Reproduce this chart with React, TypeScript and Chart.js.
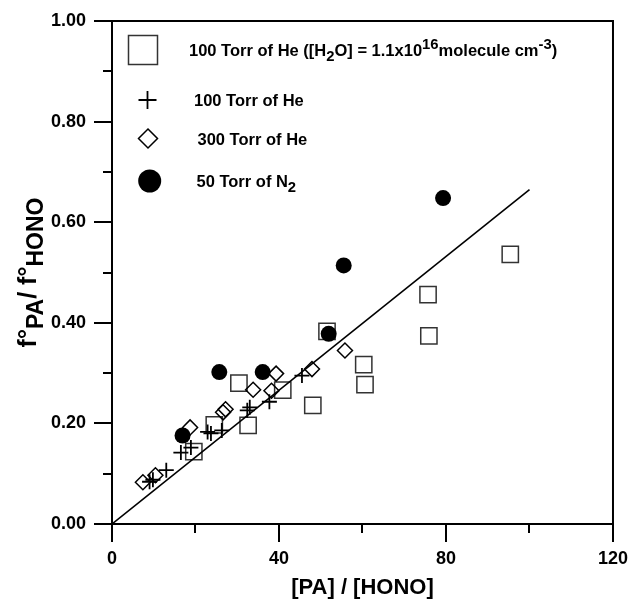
import React, { useEffect, useRef } from 'react';
import { Chart, registerables } from 'chart.js';

Chart.register(...registerables);

const FONT = "'Liberation Sans', Arial, sans-serif";

// ---- data ----
const squareX = [19.6, 24.5, 32.6, 30.4, 40.9, 48.1, 51.5, 60.3, 60.6, 75.7, 75.9, 95.4];
const squareY = [0.144, 0.197, 0.196, 0.280, 0.266, 0.236, 0.383, 0.317, 0.277, 0.456, 0.374, 0.536];

const plusX = [9.0, 9.8, 13.0, 16.5, 18.9, 22.9, 23.7, 26.3, 32.4, 33.0, 37.7, 45.5];
const plusY = [0.084, 0.088, 0.107, 0.142, 0.152, 0.183, 0.180, 0.186, 0.226, 0.232, 0.243, 0.295];

const diamondX = [7.4, 10.4, 18.7, 26.6, 27.2, 33.8, 38.2, 39.3, 47.9, 55.8];
const diamondY = [0.083, 0.097, 0.192, 0.222, 0.228, 0.267, 0.265, 0.299, 0.308, 0.345];

const circleX = [16.9, 25.7, 36.1, 51.9, 55.5, 79.3];
const circleY = [0.176, 0.302, 0.302, 0.378, 0.514, 0.648];

const fitX = [0, 100];
const fitY = [0, 0.665];

const xMajor = [0, 40, 80, 120];
const xMinor = [20, 60, 100];
const yMajor = [0, 0.2, 0.4, 0.6, 0.8, 1.0];
const yMinor = [0.1, 0.3, 0.5, 0.7, 0.9];

const xTitle = '[PA] / [HONO]';
type Seg = { t: string; k?: 'sub' | 'sup' };
const yTitle: Seg[] = [{ t: 'f°' }, { t: 'PA', k: 'sub' }, { t: '/ f°' }, { t: 'HONO', k: 'sub' }];

const legendStyles = ['square', 'plus', 'diamond', 'circle'];
const legendTexts: Seg[][] = [
  [
    { t: '100 Torr of He ([H' }, { t: '2', k: 'sub' }, { t: 'O] = 1.1x10' }, { t: '16', k: 'sup' },
    { t: 'molecule cm' }, { t: '-3', k: 'sup' }, { t: ')' },
  ],
  [{ t: '100 Torr of He' }],
  [{ t: '300 Torr of He' }],
  [{ t: '50 Torr of N' }, { t: '2', k: 'sub' }],
];

const pts = (xs: number[], ys: number[]) => xs.map((x, i) => ({ x, y: ys[i] }));

function richWidth(ctx: CanvasRenderingContext2D, segs: Seg[], size: number, scale: number) {
  let w = 0;
  for (const s of segs) {
    const sz = s.k ? size * scale : size;
    ctx.font = `bold ${sz}px ${FONT}`;
    w += ctx.measureText(s.t).width;
  }
  return w;
}

function drawRich(ctx: CanvasRenderingContext2D, segs: Seg[], x: number, y: number, size: number, scale: number, subShift: number, supShift: number) {
  let cx = x;
  ctx.textBaseline = 'alphabetic';
  ctx.textAlign = 'left';
  for (const s of segs) {
    const sz = s.k ? size * scale : size;
    const dy = s.k === 'sub' ? subShift : s.k === 'sup' ? -supShift : 0;
    ctx.font = `bold ${sz}px ${FONT}`;
    ctx.fillText(s.t, cx, y + dy);
    cx += ctx.measureText(s.t).width;
  }
}

function drawMarker(ctx: CanvasRenderingContext2D, style: string, x: number, y: number, s: number) {
  ctx.beginPath();
  if (style === 'square') {
    ctx.strokeStyle = '#333';
    ctx.lineWidth = 1.5;
    ctx.strokeRect(x - s, y - s, 2 * s, 2 * s);
  } else if (style === 'plus') {
    ctx.strokeStyle = '#000';
    ctx.lineWidth = 1.8;
    ctx.moveTo(x - s, y); ctx.lineTo(x + s, y);
    ctx.moveTo(x, y - s); ctx.lineTo(x, y + s);
    ctx.stroke();
  } else if (style === 'diamond') {
    ctx.strokeStyle = '#000';
    ctx.lineWidth = 1.5;
    ctx.moveTo(x, y - s); ctx.lineTo(x + s, y); ctx.lineTo(x, y + s); ctx.lineTo(x - s, y); ctx.closePath();
    ctx.stroke();
  } else {
    ctx.fillStyle = '#000';
    ctx.arc(x, y, s, 0, Math.PI * 2);
    ctx.fill();
  }
}

const overlay = {
  id: 'overlay',
  afterDraw(chart: any) {
    const { ctx, chartArea: a, scales } = chart;
    const xs = scales.x, ys = scales.y;
    ctx.save();
    ctx.strokeStyle = '#000';
    ctx.lineWidth = 2;
    ctx.strokeRect(a.left, a.top, a.right - a.left, a.bottom - a.top);
    // minor ticks
    ctx.beginPath();
    for (const v of xMinor) {
      const px = Math.round(xs.getPixelForValue(v));
      ctx.moveTo(px, a.bottom); ctx.lineTo(px, a.bottom + 9);
    }
    for (const v of yMinor) {
      const py = Math.round(ys.getPixelForValue(v));
      ctx.moveTo(a.left - 9, py); ctx.lineTo(a.left, py);
    }
    ctx.stroke();

    ctx.fillStyle = '#000';
    // x title
    ctx.font = `bold 22px ${FONT}`;
    ctx.textAlign = 'center';
    ctx.textBaseline = 'middle';
    ctx.fillText(xTitle, (a.left + a.right) / 2, 588);

    // y title (rotated)
    const size = 25;
    const w = richWidth(ctx, yTitle, size, 0.92);
    ctx.save();
    ctx.translate(36, (a.top + a.bottom) / 2);
    ctx.rotate(-Math.PI / 2);
    drawRich(ctx, yTitle, -w / 2, 0, size, 0.92, 7, 9);
    ctx.restore();

    // legend
    const mX = [31, 35.5, 36, 37.7];
    const mY = [29, 79, 117.5, 160];
    const tX = [77, 82, 85.5, 84.5];
    const mS = [14.5, 9, 9.5, 11.5];
    legendStyles.forEach((st, i) => {
      drawMarker(ctx, st, a.left + mX[i], a.top + mY[i], mS[i]);
      ctx.fillStyle = '#000';
      drawRich(ctx, legendTexts[i], a.left + tX[i], a.top + mY[i] + 6, 16.5, 0.9, 5, 7);
    });
    ctx.restore();
  },
};

export default function App() {
  const ref = useRef<HTMLCanvasElement>(null);
  useEffect(() => {
    if (!ref.current) return;
    const tickFont = { family: FONT, size: 18, weight: 'bold' as const };
    const chart = new Chart(ref.current, {
      type: 'scatter',
      data: {
        datasets: [
          {
            label: '50 Torr of N2',
            data: pts(circleX, circleY),
            pointStyle: 'circle',
            pointRadius: 8,
            backgroundColor: '#000',
            borderColor: '#000',
            borderWidth: 0,
          },
          {
            type: 'line',
            label: 'fit',
            data: pts(fitX, fitY),
            borderColor: '#000',
            borderWidth: 1.6,
            pointRadius: 0,
            fill: false,
          } as any,
          {
            label: '100 Torr of He',
            data: pts(plusX, plusY),
            pointStyle: 'cross',
            pointRadius: 7.5,
            borderColor: '#000',
            borderWidth: 1.8,
          },
          {
            label: '300 Torr of He',
            data: pts(diamondX, diamondY),
            pointStyle: 'rectRot',
            pointRadius: 7.5,
            borderColor: '#000',
            backgroundColor: 'rgba(0,0,0,0)',
            borderWidth: 1.5,
          },
          {
            label: '100 Torr of He (H2O)',
            data: pts(squareX, squareY),
            pointStyle: 'rect',
            pointRadius: 11.5,
            borderColor: '#333',
            backgroundColor: 'rgba(0,0,0,0)',
            borderWidth: 1.5,
          },
        ],
      },
      options: {
        responsive: false,
        animation: false,
        events: [],
        layout: { padding: { left: 0, right: 18, top: 21, bottom: 0 } },
        plugins: { legend: { display: false }, tooltip: { enabled: false } },
        scales: {
          x: {
            type: 'linear',
            min: 0,
            max: 120,
            afterBuildTicks: (s: any) => { s.ticks = xMajor.map((v) => ({ value: v })); },
            afterFit: (s: any) => { s.height = 76; },
            ticks: { font: tickFont, color: '#000', padding: 6, maxRotation: 0, autoSkip: false, callback: (v: any) => String(v) },
            grid: { drawOnChartArea: false, tickLength: 18, color: '#000', lineWidth: 2 },
            border: { display: true, color: '#000', width: 2 },
          },
          y: {
            type: 'linear',
            min: 0,
            max: 1,
            afterBuildTicks: (s: any) => { s.ticks = yMajor.map((v) => ({ value: v })); },
            afterFit: (s: any) => { s.width = 112; },
            ticks: { font: tickFont, color: '#000', padding: 8, autoSkip: false, callback: (v: any) => Number(v).toFixed(2) },
            grid: { drawOnChartArea: false, tickLength: 18, color: '#000', lineWidth: 2 },
            border: { display: true, color: '#000', width: 2 },
          },
        },
      },
      plugins: [overlay],
    });
    return () => chart.destroy();
  }, []);
  return (
    <div style={{ position: 'fixed', left: 0, top: 0, width: 634, height: 600, background: '#fff' }}>
      <canvas ref={ref} width={634} height={600} style={{ display: 'block' }} />
    </div>
  );
}
